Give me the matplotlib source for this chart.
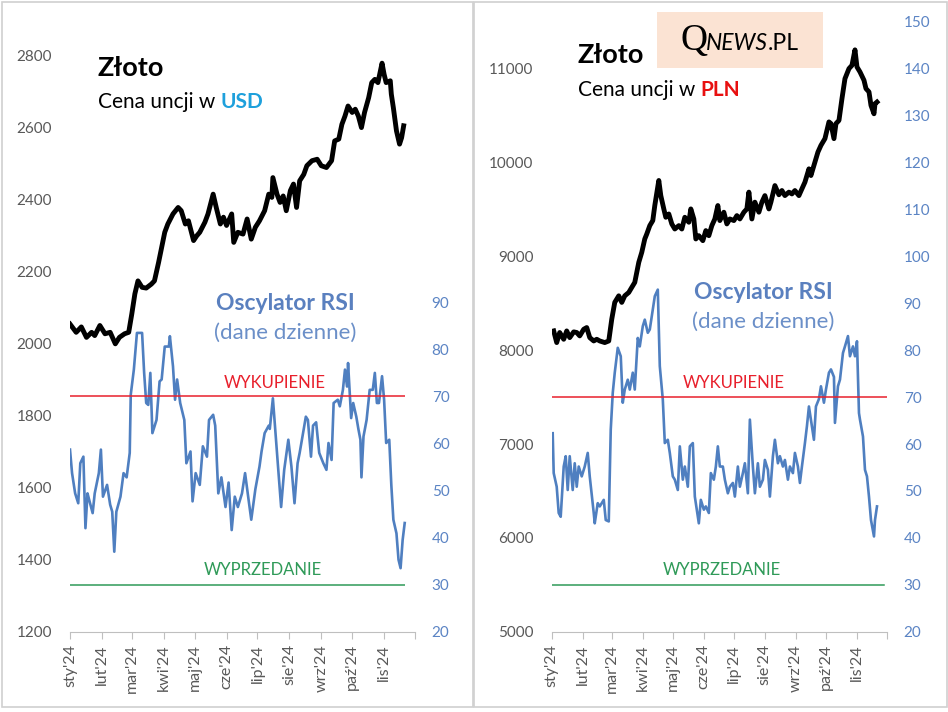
import pandas as pd
import matplotlib
matplotlib.use("Agg")
import matplotlib.pyplot as plt
from matplotlib.patches import Rectangle

plt.rcParams['font.family'] = ['Lato', 'DejaVu Sans']

# dni liczone od 1 stycznia 2024
usd_days = [0, 6, 11, 16, 21, 24, 29, 34, 39, 44, 48, 53, 57, 60, 63, 66, 70, 74, 79, 82,
            86, 89, 92, 95, 100, 105, 108, 112, 115, 120, 123, 126, 131, 134, 139, 142, 146, 149, 152, 157,
            159, 163, 168, 172, 176, 180, 184, 189, 193, 196, 197, 201, 204, 207, 210, 214, 217, 220, 223, 227,
            230, 235, 240, 244, 249, 254, 257, 261, 264, 267, 270, 274, 277, 280, 283, 286, 290, 293, 296, 299,
            303, 305, 307, 311, 312, 314, 317, 320, 322, 324]
usd_price = [2055, 2032, 2047, 2018, 2032, 2023, 2051, 2028, 2032, 2000, 2018, 2028, 2032, 2083, 2139, 2175, 2157, 2155, 2166, 2175,
             2226, 2268, 2310, 2333, 2361, 2379, 2370, 2333, 2342, 2287, 2300, 2310, 2338, 2361, 2416, 2379, 2333, 2352, 2329, 2361,
             2282, 2310, 2305, 2347, 2291, 2324, 2342, 2370, 2416, 2407, 2462, 2416, 2393, 2411, 2370, 2426, 2444, 2379, 2453, 2471,
             2495, 2509, 2513, 2495, 2490, 2509, 2564, 2569, 2610, 2633, 2661, 2643, 2652, 2633, 2601, 2643, 2684, 2726, 2735, 2726,
             2780, 2749, 2726, 2731, 2694, 2656, 2592, 2555, 2573, 2606]

usd_rsi_days = [0, 2, 5, 8, 10, 13, 15, 17, 19, 22, 24, 28, 30, 32, 36, 39, 41, 43, 45, 49,
                52, 55, 58, 59, 62, 65, 70, 72, 74, 76, 78, 80, 84, 87, 89, 92, 96, 97, 100, 102,
                104, 107, 111, 113, 117, 119, 122, 126, 129, 133, 135, 139, 141, 144, 147, 151, 154, 157, 160, 163,
                167, 170, 173, 176, 180, 184, 186, 189, 193, 194, 197, 199, 202, 205, 208, 212, 215, 218, 221, 223,
                227, 229, 231, 234, 236, 239, 242, 246, 249, 251, 254, 256, 260, 262, 265, 267, 269, 270, 273, 275,
                278, 280, 282, 283, 285, 288, 291, 294, 296, 298, 300, 303, 305, 307, 310, 312, 314, 317, 319, 321,
                323, 325]
usd_rsi = [58.7, 53.7, 49.4, 47.3, 55.8, 57.2, 42.0, 49.4, 47.7, 45.2, 49.4, 53.7, 58.7, 48.7, 51.2, 47.0, 45.5, 37.0, 45.5, 48.7,
           53.7, 52.8, 58.0, 70.4, 75.7, 83.5, 83.5, 75.0, 68.6, 68.2, 75.0, 62.2, 65.0, 73.2, 73.6, 80.6, 80.6, 82.8, 76.4, 69.3,
           73.6, 68.6, 65.0, 55.8, 58.3, 47.7, 53.7, 51.2, 59.4, 57.2, 65.0, 66.1, 63.8, 49.4, 52.8, 46.5, 51.7, 41.6, 48.7, 46.5,
           49.4, 53.7, 48.7, 43.8, 50.3, 55.1, 58.3, 62.2, 63.8, 63.1, 69.6, 63.8, 55.1, 46.5, 54.4, 60.8, 55.1, 47.3, 55.8, 58.0,
           63.1, 65.7, 65.0, 57.2, 63.8, 64.5, 58.0, 55.8, 54.4, 60.1, 56.5, 68.6, 69.3, 67.9, 71.4, 75.7, 72.1, 77.1, 65.4, 68.6,
           65.7, 63.1, 60.8, 52.8, 61.5, 65.0, 71.4, 71.4, 75.0, 68.6, 68.6, 74.3, 69.3, 60.1, 60.8, 51.2, 43.8, 40.9, 35.3, 33.5,
           39.5, 43.1]

pln_days = [2, 5, 8, 12, 15, 18, 22, 25, 28, 32, 35, 38, 42, 45, 48, 53, 57, 60, 63, 67,
            70, 73, 77, 80, 83, 87, 90, 93, 95, 98, 101, 103, 107, 109, 112, 114, 117, 120, 123, 127,
            130, 133, 137, 139, 142, 144, 147, 151, 154, 157, 160, 163, 166, 168, 172, 175, 178, 182, 185, 188,
            192, 195, 197, 200, 203, 207, 210, 213, 217, 219, 223, 227, 230, 233, 237, 240, 243, 247, 250, 253,
            257, 259, 263, 266, 269, 273, 277, 279, 282, 284, 287, 290, 293, 297, 300, 303, 305, 308, 312, 314,
            317, 319, 322, 323, 325]
pln_price = [8205, 8081, 8188, 8116, 8205, 8134, 8195, 8188, 8152, 8223, 8241, 8134, 8098, 8116, 8098, 8081, 8098, 8330, 8509, 8579,
             8509, 8579, 8615, 8669, 8722, 8936, 9043, 9185, 9238, 9327, 9381, 9541, 9808, 9647, 9505, 9416, 9451, 9345, 9291, 9327,
             9291, 9416, 9363, 9505, 9398, 9185, 9220, 9167, 9274, 9220, 9327, 9398, 9541, 9381, 9470, 9345, 9398, 9381, 9434, 9398,
             9470, 9505, 9684, 9398, 9577, 9470, 9577, 9647, 9505, 9577, 9754, 9656, 9701, 9647, 9684, 9665, 9701, 9647, 9719, 9790,
             9932, 9861, 10004, 10111, 10182, 10254, 10432, 10414, 10254, 10414, 10448, 10680, 10893, 11000, 11035, 11200, 11018, 10965, 10876, 10787,
             10752, 10608, 10519, 10626, 10644]

pln_rsi_days = [1, 2, 5, 7, 9, 12, 14, 16, 18, 21, 23, 25, 27, 30, 33, 36, 38, 42, 43, 46,
                48, 52, 54, 57, 59, 61, 63, 66, 69, 71, 73, 76, 78, 81, 83, 86, 88, 91, 93, 96,
                98, 101, 103, 106, 108, 111, 113, 116, 118, 121, 123, 126, 128, 131, 133, 136, 138, 141, 143, 147,
                149, 152, 154, 157, 159, 162, 164, 166, 168, 171, 173, 176, 178, 181, 183, 186, 188, 191, 193, 196,
                198, 201, 203, 206, 208, 211, 213, 216, 218, 221, 223, 226, 228, 231, 233, 236, 238, 241, 243, 246,
                248, 250, 253, 255, 257, 259, 262, 264, 267, 269, 272, 274, 277, 279, 282, 283, 286, 288, 291, 293,
                296, 298, 301, 303, 305, 307, 308, 311, 313, 315, 317, 319, 322, 323, 325]
pln_rsi = [62.3, 53.8, 50.9, 45.3, 44.5, 55.2, 57.4, 50.2, 57.4, 50.2, 55.9, 50.9, 55.2, 53.1, 55.2, 58.1, 53.1, 45.3, 43.1, 47.4,
           46.7, 48.1, 43.8, 43.5, 63.1, 70.9, 75.2, 80.5, 78.7, 68.8, 71.6, 73.7, 71.6, 75.2, 71.6, 82.6, 80.8, 85.1, 86.5, 83.7,
           84.4, 88.7, 91.5, 92.9, 76.6, 69.5, 60.2, 60.9, 58.1, 53.1, 52.4, 50.2, 59.5, 52.4, 55.2, 50.9, 59.5, 60.2, 48.8, 43.1,
           48.1, 46.0, 46.7, 45.3, 53.8, 52.4, 55.2, 59.5, 55.2, 55.2, 52.4, 49.5, 50.9, 51.7, 48.8, 55.2, 50.9, 53.8, 55.9, 49.5,
           65.2, 55.2, 49.5, 55.9, 50.9, 52.4, 56.6, 54.5, 48.8, 57.4, 60.9, 55.9, 57.4, 55.2, 56.6, 52.4, 55.2, 53.8, 58.1, 55.2,
           51.7, 55.2, 60.2, 63.8, 68.0, 65.2, 60.9, 68.0, 69.6, 72.3, 68.8, 71.6, 75.2, 75.9, 74.3, 64.5, 72.3, 73.7, 79.4, 80.8,
           83.0, 78.7, 80.8, 78.7, 81.9, 66.6, 65.2, 61.6, 54.5, 53.1, 48.8, 43.8, 40.3, 43.8, 46.7]

months = ["sty'24", "lut'24", "mar'24", "kwi'24", "maj'24", "cze'24",
          "lip'24", "sie'24", "wrz'24", "paź'24", "lis'24", ""]

W, H = 948, 712
fig = plt.figure(figsize=(W / 100, H / 100), dpi=100)
renderer = fig.canvas.get_renderer()


def fx(px):
    return px / W


def fy(py):
    return 1 - py / H


base = pd.Timestamp('2024-01-01')


def to_dates(days):
    return base + pd.to_timedelta(days, unit='D')


GRAY = '#595959'
RSI_BLUE = '#4f7fc0'
AX_BLUE = '#5b84c4'
RED = '#e8202c'
GREEN = '#2f9a58'
month_ticks = pd.date_range('2024-01-01', '2024-12-01', freq='MS')


def panel(left, right, top, days, price, rdays, rsi, ylim, ystep, rticks, full_red):
    bottom = 631.7
    ax = fig.add_axes([fx(left), fy(bottom), fx(right - left), (bottom - top) / H])
    ax2 = ax.twinx()
    ax.set_zorder(ax2.get_zorder() + 1)
    ax.patch.set_visible(False)

    d = to_dates(rdays)
    ax2.plot(d, rsi, color=RSI_BLUE, lw=1.9, solid_joinstyle='round')
    if full_red:
        ax2.axhline(70, color=RED, lw=1.1)
        ax2.axhline(30, color=GREEN, lw=1.1, xmax=0.99)
    else:
        ax2.hlines(70, d[0], d[-1], color=RED, lw=1.1)
        ax2.hlines(30, d[0], d[-1], color=GREEN, lw=1.1)
    ax2.set_ylim(20, 150)
    ax2.set_yticks(rticks)

    ax.plot(to_dates(days), price, color='black', lw=3.5, solid_joinstyle='round')
    ax.set_ylim(*ylim)
    ax.set_yticks(range(ylim[0], ylim[1], ystep))
    ax.set_xlim(month_ticks[0], month_ticks[-1])
    ax.set_xticks(month_ticks)
    ax.set_xticklabels(months, rotation=90, color=GRAY, fontsize=11.5)

    for a in (ax, ax2):
        for s in a.spines.values():
            s.set_visible(False)
    ax.spines['bottom'].set_visible(True)
    ax.spines['bottom'].set_color('#bfbfbf')
    ax.tick_params(axis='x', length=5, width=0.8, color='#bfbfbf', pad=4)
    ax.tick_params(axis='y', length=0, pad=13, labelsize=11, labelcolor=GRAY)
    ax2.tick_params(axis='y', length=0, pad=12, labelsize=11, labelcolor=AX_BLUE)
    return ax, ax2


panel(70, 415, 20, usd_days, usd_price, usd_rsi_days, usd_rsi,
      (1200, 2900), 200, range(20, 100, 10), False)
panel(551.7, 887, 21.7, pln_days, pln_price, pln_rsi_days, pln_rsi,
      (5000, 11500), 1000, range(20, 160, 10), True)


def label_pair(x, y, first, second, color, size):
    t = fig.text(fx(x), fy(y), first, fontsize=size, color='black', va='center')
    bb = t.get_window_extent(renderer)
    fig.text(bb.x1 / W, fy(y), second, fontsize=size, color=color,
             fontweight='bold', va='center')


# tytuły
fig.text(fx(98), fy(68), 'Złoto', fontsize=19.5, fontweight='bold', va='center')
label_pair(98, 102, 'Cena uncji w ', 'USD', '#1ea0dc', 15)
fig.text(fx(578), fy(55), 'Złoto', fontsize=19.5, fontweight='bold', va='center')
label_pair(578, 90, 'Cena uncji w ', 'PLN', '#e81010', 15)

# opis RSI
for cx, y1, y2 in [(285, 303, 333), (763, 293, 322)]:
    fig.text(fx(cx), fy(y1), 'Oscylator RSI', fontsize=16.5, fontweight='bold',
             color='#5a80bf', ha='center', va='center')
    fig.text(fx(cx), fy(y2), '(dane dzienne)', fontsize=16, color='#6b8fc8',
             ha='center', va='center')

for cx in (275, 734):
    fig.text(fx(cx), fy(383), 'WYKUPIENIE', fontsize=12, color=RED, ha='center', va='center')
    fig.text(fx(cx - 12), fy(570), 'WYPRZEDANIE', fontsize=12, color=GREEN, ha='center', va='center')

# logo
fig.patches.append(Rectangle((fx(657), fy(68)), fx(823 - 657), (68 - 12) / H,
                             transform=fig.transFigure, facecolor='#fbe3d3', edgecolor='none'))
q = fig.text(fx(681), fy(50), 'Q', fontsize=27, family='Liberation Serif', va='baseline')
bb = q.get_window_extent(renderer)
n = fig.text(bb.x1 / W - 0.002, fy(50), 'NEWS', fontsize=16.5, style='italic', va='baseline')
bb = n.get_window_extent(renderer)
fig.text(bb.x1 / W, fy(50), '.PL', fontsize=16.5, va='baseline')

# ramki wykresów
for x0, x1 in [(1.5, 472.5), (473.5, 946.5)]:
    fig.patches.append(Rectangle((fx(x0), fy(707)), fx(x1 - x0), (707 - 1.5) / H,
                                 transform=fig.transFigure, facecolor='none',
                                 edgecolor='#d0d0d0', lw=1.2))

fig.savefig('out.png', dpi=100)
